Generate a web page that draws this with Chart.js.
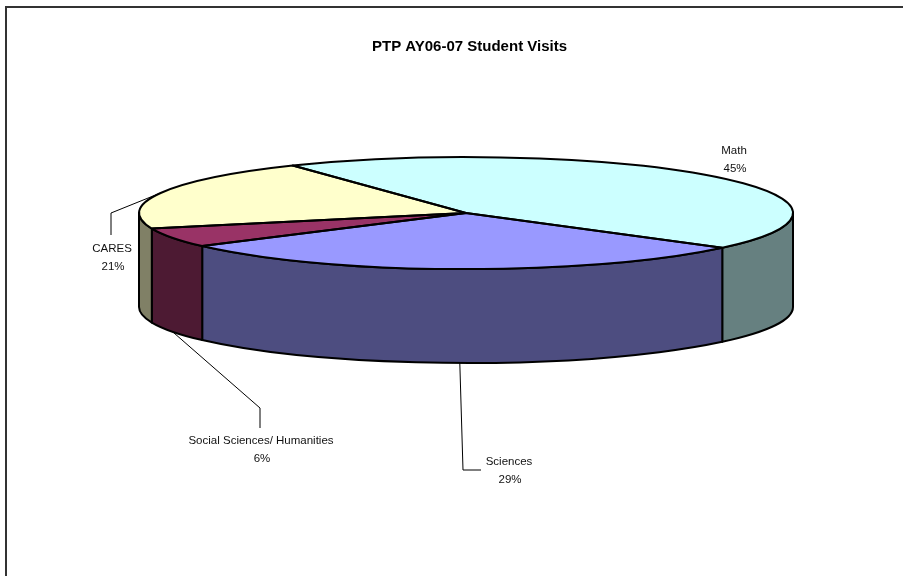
<!DOCTYPE html>
<html>
<head>
<meta charset="utf-8">
<script src="https://cdn.jsdelivr.net/npm/chart.js@4.4.1/dist/chart.umd.min.js"></script>
<style>
  html, body { margin: 0; padding: 0; background: #fff; }
  canvas { display: block; }
</style>
</head>
<body>
<canvas id="c" width="903" height="576"></canvas>
<script>
// ---- data ----
const categories = ['Math', 'Sciences', 'Social Sciences/ Humanities', 'CARES'];
const values = [44.6, 29.3, 5.6, 20.6];   // share of student visits (%)
const chartTitle = 'PTP AY06-07 Student Visits';

// ---- styles ----
const topColors  = ['#CCFFFF', '#9999FF', '#993366', '#FFFFCC'];
const sideColors = ['#668080', '#4D4D80', '#4D1A33', '#808066'];
const ellipse = { cx: 466, cy: 213, rx: 327, ry: 56, depth: 94 };
const labelFont = '11.5px "Liberation Sans", Arial, sans-serif';
// label text centres, and leader elbows (start comes from the slice's mid-angle)
const labelLayout = [
  { x: 734, y: 151, leader: null },
  { x: 509, y: 462, leader: [[463, 470], [481, 470]] },
  { x: 261, y: 441, leader: [[260, 408], [260, 428]] },
  { x: 112, y: 249, leader: [[111, 213], [111, 235]] }
];

function frontIntervals(s, e) {
  const out = [];
  for (let k = -2; k <= 2; k++) {
    const a = Math.max(s, 2 * Math.PI * k);
    const b = Math.min(e, 2 * Math.PI * k + Math.PI);
    if (b > a) out.push([a, b]);
  }
  return out;
}

const pie3d = {
  id: 'pie3d',
  beforeDraw(chart) {
    const ctx = chart.ctx;
    ctx.save();
    ctx.strokeStyle = '#333';
    ctx.lineWidth = 2;
    ctx.strokeRect(6, 7, 920, 600);
    ctx.restore();
  },
  beforeDatasetsDraw(chart) {
    const ctx = chart.ctx;
    const arcs = chart.getDatasetMeta(0).data;
    const { cx, cy, rx, ry, depth } = ellipse;
    // side walls
    ctx.save();
    ctx.lineWidth = 2;
    ctx.strokeStyle = '#000';
    ctx.lineJoin = 'round';
    arcs.forEach((arc, i) => {
      const p = arc.getProps(['startAngle', 'endAngle'], true);
      frontIntervals(p.startAngle, p.endAngle).forEach(([a, b]) => {
        ctx.beginPath();
        ctx.moveTo(cx + rx * Math.cos(a), cy + ry * Math.sin(a));
        ctx.ellipse(cx, cy, rx, ry, 0, a, b);
        ctx.lineTo(cx + rx * Math.cos(b), cy + ry * Math.sin(b) + depth);
        ctx.ellipse(cx, cy + depth, rx, ry, 0, b, a, true);
        ctx.closePath();
        ctx.fillStyle = sideColors[i];
        ctx.fill();
        ctx.stroke();
      });
    });
    ctx.restore();
    // map the library's circular pie onto the top ellipse
    const a0 = arcs[0].getProps(['x', 'y', 'outerRadius'], true);
    ctx.save();
    ctx.translate(cx, cy);
    ctx.scale(rx / a0.outerRadius, ry / a0.outerRadius);
    ctx.translate(-a0.x, -a0.y);
  },
  afterDatasetsDraw(chart) {
    const ctx = chart.ctx;
    ctx.restore();
    const arcs = chart.getDatasetMeta(0).data;
    const { cx, cy, rx, ry, depth } = ellipse;
    ctx.save();
    ctx.lineWidth = 2;
    ctx.strokeStyle = '#000';
    ctx.lineJoin = 'round';
    arcs.forEach((arc) => {
      const p = arc.getProps(['startAngle', 'endAngle'], true);
      ctx.beginPath();
      ctx.moveTo(cx, cy);
      ctx.ellipse(cx, cy, rx, ry, 0, p.startAngle, p.endAngle);
      ctx.closePath();
      ctx.stroke();
    });
    ctx.restore();

    // labels
    const total = values.reduce((s, v) => s + v, 0);
    ctx.save();
    ctx.font = labelFont;
    ctx.fillStyle = '#111';
    ctx.textAlign = 'center';
    ctx.textBaseline = 'middle';
    ctx.strokeStyle = '#000';
    ctx.lineWidth = 1;
    arcs.forEach((arc, i) => {
      const p = arc.getProps(['startAngle', 'endAngle'], true);
      const lay = labelLayout[i];
      if (lay.leader) {
        const m = (p.startAngle + p.endAngle) / 2;
        const front = Math.sin(m) > 0;
        const sx = cx + rx * Math.cos(m);
        const sy = cy + ry * Math.sin(m) + (front ? depth : 0);
        ctx.beginPath();
        ctx.moveTo(sx, sy);
        lay.leader.forEach(pt => ctx.lineTo(pt[0], pt[1]));
        ctx.stroke();
      }
      ctx.fillText(categories[i], lay.x, lay.y);
      ctx.fillText(Math.round(values[i] / total * 100) + '%', lay.x + 1, lay.y + 18);
    });
    ctx.restore();
  }
};

new Chart(document.getElementById('c'), {
  type: 'pie',
  data: {
    labels: categories,
    datasets: [{
      data: values,
      backgroundColor: topColors,
      borderWidth: 0
    }]
  },
  options: {
    responsive: false,
    animation: false,
    rotation: -32,
    events: [],
    layout: { padding: { left: 36 } },
    plugins: {
      legend: { display: false },
      tooltip: { enabled: false },
      title: {
        display: true,
        text: chartTitle,
        color: '#000',
        font: { family: '"Liberation Sans", Arial, sans-serif', size: 15, weight: 'bold' },
        padding: { top: 38, bottom: 10 }
      }
    }
  },
  plugins: [pie3d]
});
</script>
</body>
</html>
